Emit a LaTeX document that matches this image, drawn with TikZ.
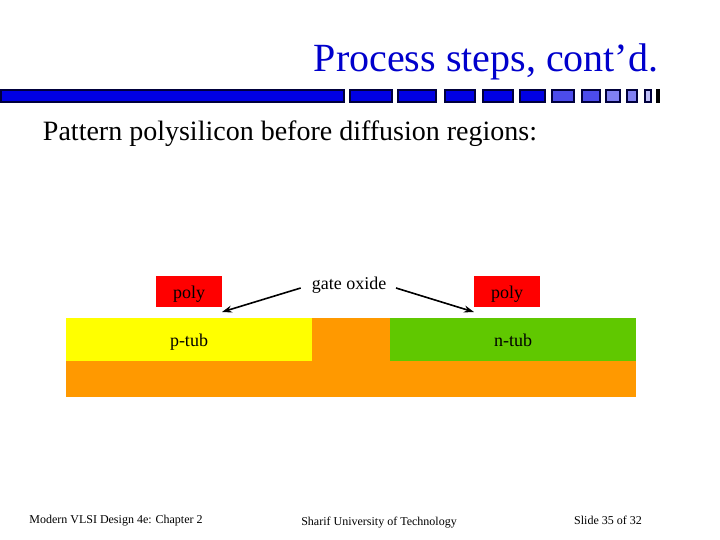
\documentclass[tikz,border=0pt]{standalone}
\usepackage{fontspec}
\setmainfont{Liberation Serif}
\usetikzlibrary{arrows.meta}
\definecolor{tubor}{RGB}{255,153,0}
\definecolor{tubye}{RGB}{255,255,0}
\definecolor{tubgr}{RGB}{96,200,0}
\definecolor{polyr}{RGB}{255,0,0}
\definecolor{barb}{RGB}{0,0,228}
\definecolor{titleb}{RGB}{0,0,204}
\definecolor{segedge}{RGB}{0,0,60}
\tikzset{
  x=1pt,y=-1pt,
  seg/.style={draw=segedge,line width=1.6pt,fill=barb},
  region/.style={fill=#1,draw=none},
  lbl/.style={inner sep=0pt,font=\fontsize{18}{20}\selectfont,anchor=base},
  foot/.style={inner sep=0pt,font=\fontsize{12}{14}\selectfont,anchor=base},
  polybox/.style={fill=polyr,minimum width=66pt,minimum height=31pt,inner sep=0pt},
  arr/.style={draw=black,line width=1.6pt,-{Stealth[length=10pt,width=7pt]}}
}
\begin{document}
\begin{tikzpicture}
\useasboundingbox (0,0) rectangle (720,540);
\fill[white] (0,0) rectangle (720,540);
\node[inner sep=0pt,text=titleb,font=\fontsize{40}{44}\selectfont,anchor=base] (title) at (486,72) {Process steps, cont’d.};
\node[inner sep=0pt,font=\fontsize{28}{32}\selectfont,anchor=base] (sub) at (290,141) {Pattern polysilicon before diffusion regions:};
% bar
\draw[seg] (0.8,89.8) rectangle (344.2,102.2);
\draw[seg] (349.8,89.8) rectangle (392,102.2);
\draw[seg] (397.8,89.8) rectangle (436.2,102.2);
\draw[seg] (444.8,89.8) rectangle (475.2,102.2);
\draw[seg] (482.8,89.8) rectangle (513.2,102.2);
\draw[seg] (519.8,89.8) rectangle (545.2,102.2);
\draw[seg,fill=barb!70] (551.8,89.8) rectangle (574.2,102.2);
\draw[seg,fill=barb!70] (581.8,89.8) rectangle (600.2,102.2);
\draw[seg,fill=barb!50] (605.8,89.8) rectangle (620.2,102.2);
\draw[seg,fill=barb!50] (626.8,89.8) rectangle (637.2,102.2);
\draw[seg,fill=barb!25] (644.8,89.8) rectangle (651.2,102.2);
\fill[black] (656,89) rectangle (660,103);
% cross-section
\fill[region=tubor] (66,318) rectangle (636,397);
\fill[region=tubye] (66,318) rectangle (312,361);
\fill[region=tubgr] (390,318) rectangle (636,361);
\node[polybox] (polyl) at (189,291.5) {};
\node[polybox] (polyr) at (507,291.5) {};
\node[lbl] at (189,298.5) {poly};
\node[lbl] at (507,298.5) {poly};
\node[lbl] (ptub) at (189,346) {p-tub};
\node[lbl] (ntub) at (513,346) {n-tub};
\node[lbl] (gate) at (349,289.5) {gate oxide};
\coordinate (gl) at (300.7,288);
\coordinate (gr) at (396,288);
\coordinate (tl) at (222,312);
\coordinate (tr) at (474,312);
\draw[arr] (gl) -- (tl);
\draw[arr] (gr) -- (tr);
\node[foot] (f1) at (116,523) {Modern VLSI Design 4e: Chapter 2};
\node[foot] (f2) at (379,525) {Sharif University of Technology};
\node[foot] (f3) at (608,524) {Slide 35 of 32};
\end{tikzpicture}
\end{document}
